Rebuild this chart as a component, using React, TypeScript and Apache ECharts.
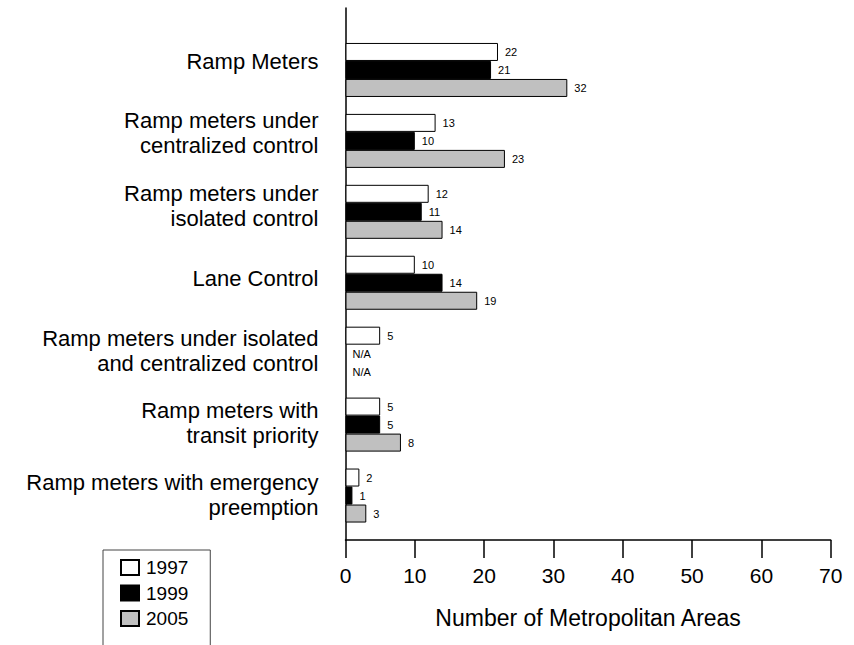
import React, { useEffect, useRef } from "react";
import * as echarts from "echarts";

const categories = [
  "Ramp Meters",
  "Ramp meters under\ncentralized control",
  "Ramp meters under\nisolated control",
  "Lane Control",
  "Ramp meters under isolated\nand centralized control",
  "Ramp meters with\ntransit priority",
  "Ramp meters with emergency\npreemption",
];
const seriesNames = ["1997", "1999", "2005"];
const values1997: (number | null)[] = [22, 13, 12, 10, 5, 5, 2];
const values1999: (number | null)[] = [21, 10, 11, 14, null, 5, 1];
const values2005: (number | null)[] = [32, 23, 14, 19, null, 8, 3];
const xTicks = { min: 0, max: 70, interval: 10 };
const xTitle = "Number of Metropolitan Areas";

const FONT = "'Liberation Sans', Arial, Helvetica, sans-serif";

function toData(vals: (number | null)[]) {
  return vals.map((v) =>
    v === null
      ? { value: 0, itemStyle: { borderWidth: 0 }, label: { formatter: "N/A" } }
      : v
  );
}

export default function App() {
  const ref = useRef<HTMLDivElement>(null);
  useEffect(() => {
    if (!ref.current) return;
    const chart = echarts.init(ref.current, null, { renderer: "svg" });
    const gridLR = { left: 345.5, right: 23.3 };
    const fills = ["#ffffff", "#000000", "#c0c0c0"];
    const allVals = [values1997, values1999, values2005];
    chart.setOption({
      animation: false,
      textStyle: { fontFamily: FONT, color: "#000" },
      grid: [
        { ...gridLR, top: 8, height: 532 },
        { ...gridLR, top: 34.5, height: 496.5 },
        { ...gridLR, top: 24.8, height: 506.8 },
      ],
      xAxis: [
        {
          gridIndex: 0,
          type: "value",
          min: xTicks.min,
          max: xTicks.max,
          interval: xTicks.interval,
          axisLine: { show: true, lineStyle: { color: "#000", width: 1.5 } },
          axisTick: { show: true, length: 18, lineStyle: { color: "#000", width: 1.5 } },
          axisLabel: { margin: 25, fontSize: 21, color: "#000", fontFamily: FONT },
          splitLine: { show: false },
          name: xTitle,
          nameLocation: "middle",
          nameGap: 66,
          nameTextStyle: { fontSize: 23, color: "#000", fontFamily: FONT },
        },
        { gridIndex: 1, type: "value", min: xTicks.min, max: xTicks.max, show: false },
        { gridIndex: 2, type: "value", min: xTicks.min, max: xTicks.max, show: false },
      ],
      yAxis: [
        {
          gridIndex: 0,
          type: "value",
          min: 0,
          max: 1,
          axisLine: { show: true, lineStyle: { color: "#000", width: 1.5 } },
          axisTick: { show: false },
          axisLabel: { show: false },
          splitLine: { show: false },
        },
        {
          gridIndex: 1,
          type: "category",
          data: categories,
          inverse: true,
          axisLine: { show: false },
          axisTick: { show: false },
          axisLabel: { show: false },
        },
        {
          gridIndex: 2,
          type: "category",
          data: categories,
          inverse: true,
          axisLine: { show: false },
          axisTick: { show: false },
          axisLabel: {
            fontSize: 22,
            lineHeight: 25,
            margin: 27,
            align: "right",
            color: "#000",
            fontFamily: FONT,
          },
        },
      ],
      legend: {
        data: seriesNames,
        orient: "vertical",
        left: 103,
        top: 550,
        height: 160,
        padding: [8, 22, 40, 17],
        itemWidth: 18,
        itemHeight: 15,
        itemGap: 6.5,
        icon: "rect",
        selectedMode: false,
        borderColor: "#444",
        borderWidth: 1,
        textStyle: { fontSize: 19, lineHeight: 19, color: "#000", fontFamily: FONT, padding: [0, 0, 0, 2] },
      },
      series: seriesNames.map((name, i) => ({
        name,
        type: "bar",
        xAxisIndex: 1,
        yAxisIndex: 1,
        barWidth: 18,
        barGap: "0%",
        data: toData(allVals[i]),
        itemStyle: { color: fills[i], borderColor: "#000", borderWidth: 1 },
        label: {
          show: true,
          position: "right",
          distance: 7,
          fontSize: 11,
          color: "#000",
          fontFamily: FONT,
        },
      })),
    });
    return () => chart.dispose();
  }, []);
  return (
    <div
      ref={ref}
      style={{ position: "absolute", left: 0, top: 0, width: 854, height: 645, background: "#fff" }}
    />
  );
}
